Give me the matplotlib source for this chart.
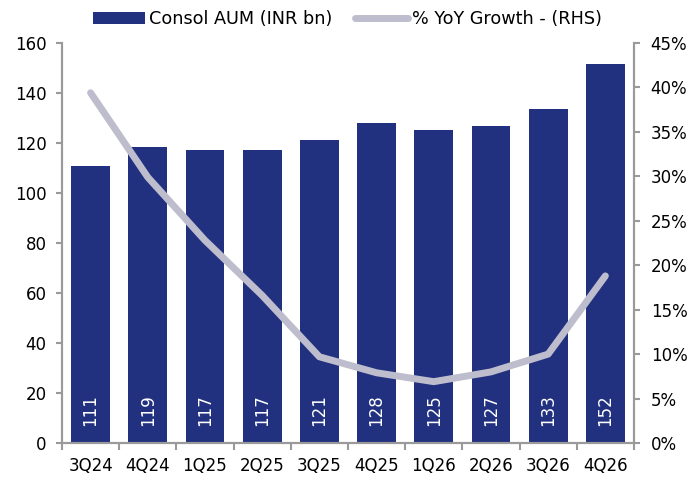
import matplotlib.pyplot as plt
import numpy as np
from matplotlib.ticker import PercentFormatter

quarters = ['3Q24', '4Q24', '1Q25', '2Q25', '3Q25', '4Q25', '1Q26', '2Q26', '3Q26', '4Q26']
aum = [111, 119, 117, 117, 121, 128, 125, 127, 133, 152]
aum_heights = [110.8, 118.5, 117.0, 117.3, 121.2, 127.8, 125.0, 126.9, 133.4, 151.6]
yoy = [39.4, 29.9, 22.8, 16.6, 9.7, 7.9, 6.9, 8.0, 10.0, 18.8]

plt.rcParams['font.family'] = ['DejaVu Sans']
plt.rcParams['font.size'] = 12

navy = '#22317f'
grey_line = '#bdbdcd'
spine_c = '#9a9a9a'

fig = plt.figure(figsize=(6.94, 4.83), dpi=100)
ax = fig.add_axes([0.0893, 0.0828, 0.8242, 0.8282])
ax2 = ax.twinx()

x = np.arange(len(quarters))
bars = ax.bar(x, aum_heights, width=0.68, color=navy, label='Consol AUM (INR bn)', zorder=2)
for xi, v in zip(x, aum):
    ax.text(xi, 7, str(v), rotation=90, ha='center', va='bottom', color='white', fontsize=12, zorder=3)

ln, = ax2.plot(x, yoy, color=grey_line, lw=5, label='% YoY Growth - (RHS)', solid_capstyle='round', zorder=4)

ax.set_xlim(-0.5, 9.5)
ax.set_ylim(0, 160)
ax.set_yticks(range(0, 161, 20))
ax2.set_ylim(0, 45)
ax2.set_yticks(range(0, 46, 5))
ax2.yaxis.set_major_formatter(PercentFormatter(decimals=0))

ax.set_xticks(x)
ax.set_xticklabels(quarters)
ax.set_xticks(np.arange(-0.5, 10, 1), minor=True)
ax.tick_params(axis='x', which='major', length=0, pad=10)
ax.tick_params(axis='x', which='minor', length=5, color=spine_c, width=1.5)
ax.tick_params(axis='y', length=4, color=spine_c, width=1.5, pad=7)
ax2.tick_params(axis='y', length=4, color=spine_c, width=1.5, pad=8)

for a in (ax, ax2):
    a.spines['top'].set_visible(False)
    for s in ('left', 'right', 'bottom'):
        a.spines[s].set_color(spine_c)
        a.spines[s].set_linewidth(1.5)
ax.set_zorder(ax2.get_zorder() - 1)
ax2.patch.set_visible(False)
ax.patch.set_visible(False)

fig.legend(handles=[bars, ln], loc='upper center', bbox_to_anchor=(0.5, 1.012), ncol=2,
           frameon=False, fontsize=12.7, handlelength=3.0, handletextpad=0.2, columnspacing=1.3)

fig.savefig('out.png', dpi=100)
